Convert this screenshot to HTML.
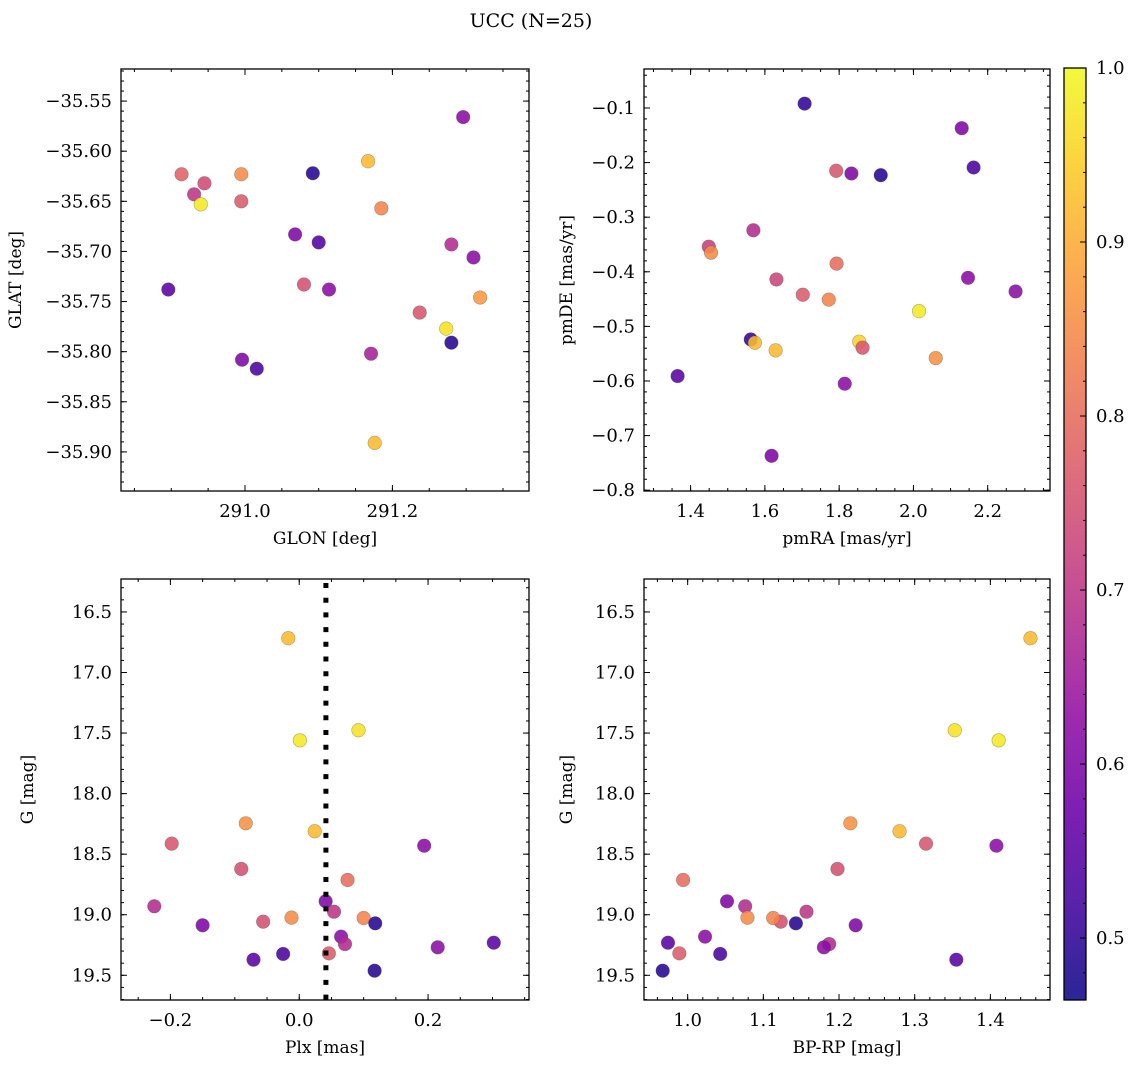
<!DOCTYPE html>
<html><head><meta charset="utf-8">
<style>
html,body{margin:0;padding:0;background:#fff;}
svg{display:block;font-family:"DejaVu Serif","Liberation Serif",serif;}
</style></head>
<body>
<svg id="fig" width="1136" height="1068" viewBox="0 0 1136 1068" xmlns="http://www.w3.org/2000/svg">
<text x="531" y="27" font-size="19" text-anchor="middle">UCC (N=25)</text>
</svg>
<script>
// ---- data ----
const glon = [290.914,290.945,290.931,290.940,290.995,290.995,290.896,290.996,291.016,291.092,291.068,291.100,291.080,291.114,291.167,291.185,291.171,291.176,291.296,291.280,291.310,291.237,291.273,291.280,291.319];
const glat = [-35.623,-35.632,-35.643,-35.653,-35.623,-35.650,-35.738,-35.808,-35.817,-35.622,-35.683,-35.691,-35.733,-35.738,-35.610,-35.657,-35.802,-35.891,-35.566,-35.693,-35.706,-35.761,-35.777,-35.791,-35.746];
const probSky = [0.78,0.74,0.70,0.98,0.85,0.77,0.55,0.60,0.53,0.49,0.60,0.54,0.75,0.62,0.92,0.84,0.66,0.92,0.62,0.68,0.62,0.76,0.97,0.49,0.87];
const pmra = [1.707,2.130,2.162,1.792,1.833,1.912,1.569,1.449,1.455,1.793,1.631,2.147,2.275,1.702,1.772,2.015,1.562,1.573,1.629,1.854,1.863,2.060,1.365,1.815,1.618];
const pmde = [-0.092,-0.137,-0.209,-0.215,-0.220,-0.223,-0.324,-0.354,-0.365,-0.385,-0.414,-0.411,-0.436,-0.442,-0.451,-0.472,-0.524,-0.530,-0.544,-0.528,-0.539,-0.558,-0.591,-0.605,-0.737];
const probPm = [0.50,0.60,0.53,0.76,0.60,0.49,0.68,0.72,0.85,0.80,0.73,0.62,0.62,0.77,0.84,0.98,0.50,0.92,0.92,0.95,0.76,0.86,0.55,0.62,0.60];
const plx = [-0.017,0.001,0.092,-0.083,0.024,-0.198,0.194,-0.090,0.075,-0.225,0.041,0.054,-0.150,-0.056,-0.012,0.100,0.118,0.065,0.071,0.046,-0.025,-0.071,0.215,0.302,0.117];
const gmag = [16.717,17.560,17.477,18.245,18.311,18.413,18.430,18.622,18.713,18.930,18.889,18.975,19.087,19.057,19.024,19.027,19.071,19.181,19.242,19.319,19.324,19.371,19.269,19.231,19.462];
const bprp = [1.453,1.411,1.353,1.215,1.280,1.315,1.408,1.198,0.994,1.076,1.052,1.157,1.222,1.123,1.079,1.113,1.143,1.023,1.187,0.989,1.043,1.355,1.180,0.974,0.967];
const probPhot = [0.92,0.98,0.97,0.86,0.92,0.76,0.62,0.75,0.80,0.68,0.60,0.70,0.60,0.75,0.85,0.84,0.49,0.62,0.68,0.77,0.53,0.55,0.62,0.55,0.49];
const plxMedian = 0.0414;
const cbTicks = [0.5,0.6,0.7,0.8,0.9,1.0];
const vmin = 0.4644, vmax = 1.0;

const NS = "http://www.w3.org/2000/svg";
const svg = document.getElementById('fig');
function mk(tag, attrs, parent){ const e=document.createElementNS(NS,tag); for(const k in attrs) e.setAttribute(k,attrs[k]); (parent||svg).appendChild(e); return e; }

const plasma = [[13,8,135],[65,4,157],[106,0,168],[143,13,164],[177,42,144],[204,71,120],[225,100,98],[242,132,75],[252,166,54],[252,206,37],[240,249,33]];
function cmap(v){
  let t=(v-vmin)/(vmax-vmin); t=Math.max(0,Math.min(1,t))*10;
  const i=Math.min(9,Math.floor(t)), f=t-i, a=plasma[i], b=plasma[i+1];
  return 'rgb('+a.map((c,j)=>Math.round(c+(b[j]-c)*f)).join(',')+')';
}
function fmt(v,d){ const s=Math.abs(v).toFixed(d); return (v<-1e-9?'\u2212':'')+s; }
function rng(min,max,step){ const out=[]; for(let k=Math.ceil(min/step-1e-6);k<=Math.floor(max/step+1e-6);k++) out.push(+(k*step).toFixed(6)); return out; }

function panel(cfg){
  const {name,x0,x1,y0,y1,xmin,xmax,ymin,ymax,invY,xMaj,xMin,xDec,yMaj,yMin,yDec,xlabel,ylabel,ylabX} = cfg;
  const sx = v => x0+(v-xmin)/(xmax-xmin)*(x1-x0);
  const sy = v => invY ? y0+(v-ymin)/(ymax-ymin)*(y1-y0) : y1-(v-ymin)/(ymax-ymin)*(y1-y0);
  const g = mk('g',{});
  
  
  const lo=Math.min(ymin,ymax), hi=Math.max(ymin,ymax);
  const tg = mk('g',{stroke:'#000','stroke-width':1},g);
  rng(xmin,xmax,xMin).forEach(v=>{const x=sx(v); mk('line',{x1:x,x2:x,y1:y1,y2:y1-3},tg); mk('line',{x1:x,x2:x,y1:y0,y2:y0+3},tg);});
  rng(lo,hi,yMin).forEach(v=>{const y=sy(v); mk('line',{x1:x0,x2:x0+3,y1:y,y2:y},tg); mk('line',{x1:x1,x2:x1-3,y1:y,y2:y},tg);});
  rng(xmin,xmax,xMaj).forEach(v=>{const x=sx(v); mk('line',{x1:x,x2:x,y1:y1,y2:y1-6},tg); mk('line',{x1:x,x2:x,y1:y0,y2:y0+6},tg);
    const t=mk('text',{x:x,y:y1+26,'font-size':18,'text-anchor':'middle'},g); t.textContent=fmt(v,xDec);
    
    });
  rng(lo,hi,yMaj).forEach(v=>{const y=sy(v); mk('line',{x1:x0,x2:x0+6,y1:y,y2:y},tg); mk('line',{x1:x1,x2:x1-6,y1:y,y2:y},tg);
    const t=mk('text',{x:x0-9,y:y+6,'font-size':18,'text-anchor':'end'},g); t.textContent=fmt(v,yDec);
    
    });
  const xl=mk('text',{x:(x0+x1)/2,y:y1+53,'font-size':17,'text-anchor':'middle'},g); xl.textContent=xlabel;
  
  
  const yl=mk('text',{x:ylabX,y:(y0+y1)/2,'font-size':17,'text-anchor':'middle',transform:'rotate(-90 '+ylabX+' '+(y0+y1)/2+')'},g); yl.textContent=ylabel;
  
  
  return {g,sx,sy,x0,x1,y0,y1};
}
function scatter(p, xs, ys, cs){
  xs.forEach((xv,i)=>{
    const c=mk('circle',{cx:p.sx(xv),cy:p.sy(ys[i]),r:6.8,fill:cmap(cs[i]),'fill-opacity':0.88,stroke:'rgba(80,80,80,0.45)','stroke-width':0.6},p.g);
    
    
  });
}
function frame(p){ const r=mk('rect',{x:p.x0,y:p.y0,width:p.x1-p.x0,height:p.y1-p.y0,fill:'none',stroke:'#000','stroke-width':1.3},p.g);
  
   }

const p1 = panel({name:'sky-panel',x0:121,x1:529,y0:69,y1:491,xmin:290.8318,xmax:291.3853,ymin:-35.939,ymax:-35.518,invY:false,xMaj:0.2,xMin:0.05,xDec:1,yMaj:0.05,yMin:0.01,yDec:2,xlabel:'GLON [deg]',ylabel:'GLAT [deg]',ylabX:21});
scatter(p1, glon, glat, probSky); frame(p1);

const p2 = panel({name:'proper-motion-panel',x0:644,x1:1050,y0:69,y1:491,xmin:1.2745,xmax:2.3677,ymin:-0.8015,ymax:-0.0286,invY:false,xMaj:0.2,xMin:0.05,xDec:1,yMaj:0.1,yMin:0.02,yDec:1,xlabel:'pmRA [mas/yr]',ylabel:'pmDE [mas/yr]',ylabX:572});
scatter(p2, pmra, pmde, probPm); frame(p2);

const p3 = panel({name:'parallax-panel',x0:121,x1:529,y0:579,y1:1000,xmin:-0.2767,xmax:0.3567,ymin:16.228,ymax:19.704,invY:true,xMaj:0.2,xMin:0.05,xDec:1,yMaj:0.5,yMin:0.1,yDec:1,xlabel:'Plx [mas]',ylabel:'G [mag]',ylabX:33});
scatter(p3, plx, gmag, probPhot);
const ml=mk('line',{x1:p3.sx(plxMedian),x2:p3.sx(plxMedian),y1:579,y2:1000,stroke:'#000','stroke-width':5,'stroke-dasharray':'5 9.7','stroke-dashoffset':-4},p3.g);


frame(p3);

const p4 = panel({name:'cmd-panel',x0:644,x1:1050,y0:579,y1:1000,xmin:0.9423,xmax:1.4788,ymin:16.228,ymax:19.704,invY:true,xMaj:0.1,xMin:0.02,xDec:1,yMaj:0.5,yMin:0.1,yDec:1,xlabel:'BP-RP [mag]',ylabel:'G [mag]',ylabX:572});
scatter(p4, bprp, gmag, probPhot); frame(p4);

// colorbar
const cb = mk('g',{});


const defs = mk('defs',{},cb);
const lg = mk('linearGradient',{id:'cbg',x1:0,y1:1,x2:0,y2:0},defs);
for(let i=0;i<=20;i++){ const v=vmin+(vmax-vmin)*i/20; mk('stop',{offset:(i*5)+'%','stop-color':cmap(v),'stop-opacity':0.88},lg); }
const cbx0=1064, cbx1=1086, cby0=68, cby1=1000;
const cy = v => cby1-(v-vmin)/(vmax-vmin)*(cby1-cby0);
mk('rect',{x:cbx0,y:cby0,width:cbx1-cbx0,height:cby1-cby0,fill:'url(#cbg)'},cb);
rng(vmin,vmax,0.02).forEach(v=>{const y=cy(v); mk('line',{x1:cbx1,x2:cbx1-3,y1:y,y2:y,stroke:'#000'},cb);});
cbTicks.forEach(v=>{const y=cy(v); mk('line',{x1:cbx1,x2:cbx1-6,y1:y,y2:y,stroke:'#000'},cb);
  const t=mk('text',{x:cbx1+10,y:y+6,'font-size':18},cb); t.textContent=v.toFixed(1);
  
  });
mk('rect',{x:cbx0,y:cby0,width:cbx1-cbx0,height:cby1-cby0,fill:'none',stroke:'#000','stroke-width':1.3},cb);
</script>
</body></html>
